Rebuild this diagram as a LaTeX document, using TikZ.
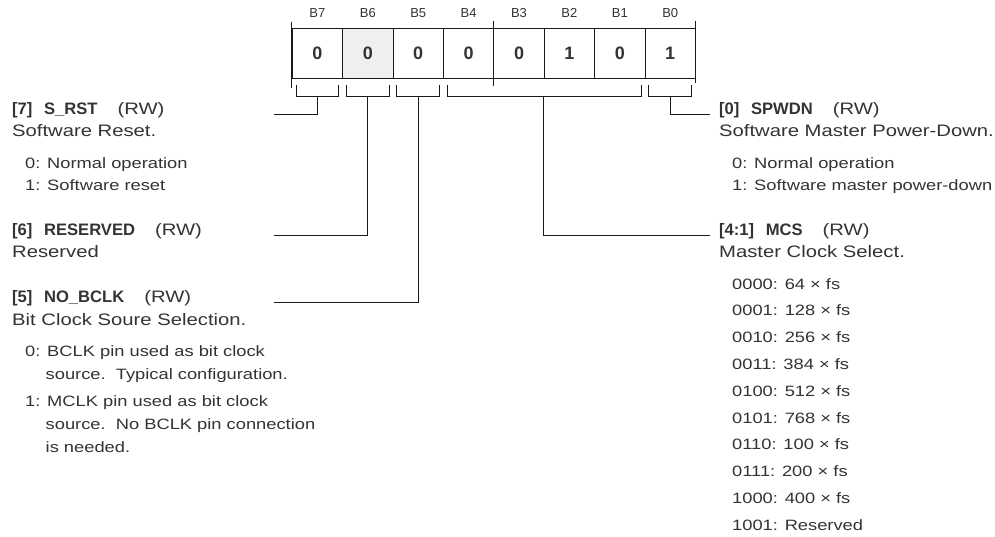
\documentclass[tikz,border=0pt]{standalone}
\usepackage{fontspec}
\setmainfont{Liberation Sans}[FakeStretch=1.22]
\newfontfamily\plainfont{Liberation Sans}
\newcommand\bhead[1]{{\plainfont\bfseries #1}}
\definecolor{txt}{HTML}{333333}
\definecolor{ln}{HTML}{1A1A1A}
\definecolor{cellgray}{HTML}{EFEFEF}
\begin{document}
\begin{tikzpicture}[x=1pt,y=-1pt,
  cellbox/.style={draw=ln,line width=1pt,minimum width=50.4pt,minimum height=50.6pt,
    inner sep=0pt,anchor=north west,text=txt,font=\plainfont\bfseries\fontsize{18}{18}\selectfont},
  bitlabel/.style={text=txt,inner sep=0pt,font=\plainfont\fontsize{13}{13}\selectfont},
  head/.style={anchor=base west,inner sep=0pt,text=txt,font=\fontsize{16.6}{20}\selectfont},
  sub/.style={anchor=base west,inner sep=0pt,text=txt,font=\fontsize{15}{18}\selectfont},
  wire/.style={draw=ln,line width=1.1pt},
]
\useasboundingbox (0,0) rectangle (995,536);
% register cells
\node[cellbox] (c7) at (291.7,27.7) {0};
\node[cellbox,fill=cellgray] (c6) at (342.1,27.7) {0};
\node[cellbox] (c5) at (392.5,27.7) {0};
\node[cellbox] (c4) at (442.9,27.7) {0};
\node[cellbox] (c3) at (493.3,27.7) {0};
\node[cellbox] (c2) at (543.7,27.7) {1};
\node[cellbox] (c1) at (594.1,27.7) {0};
\node[cellbox] (c0) at (644.5,27.7) {1};
% bit labels
\foreach \b in {7,6,5,4,3,2,1,0}{
  \node[bitlabel] (lb\b) at ([yshift=14.4pt]c\b.north) {B\b};
}
% ticks
\draw[wire] ([yshift=6pt]c7.north west) -- ([yshift=-9pt]c7.south west);
\draw[wire] ([yshift=7pt]c3.north west) -- (c3.north west);
\draw[wire] (c3.south west) -- ([yshift=-7pt]c3.south west);
\draw[wire] ([yshift=7pt]c0.north east) -- ([yshift=-3.5pt]c0.south east);
% brackets
\foreach \l/\r in {7/7,6/6,5/5,4/1,0/0}{
  \draw[wire] ([xshift=4.4pt,yshift=-6pt]c\l.south west) -- ([xshift=4.4pt,yshift=-17pt]c\l.south west)
    -- ([xshift=-4.4pt,yshift=-17pt]c\r.south east) -- ([xshift=-4.4pt,yshift=-6pt]c\r.south east);
}
\coordinate (b7) at ([yshift=-17pt]c7.south);
\coordinate (b6) at ([yshift=-17pt]c6.south);
\coordinate (b5) at ([yshift=-17pt]c5.south);
\coordinate (b41) at ([yshift=-17pt]c2.south west);
\coordinate (b0) at ([yshift=-17pt]c0.south);
\coordinate (e7) at (274,114.3);
\coordinate (e6) at (274,235.7);
\coordinate (e5) at (274,302.7);
\coordinate (e41) at (710,235.2);
\coordinate (e0) at (710,114.3);
\draw[wire] (b7) |- (e7);
\draw[wire] (b6) |- (e6);
\draw[wire] (b5) |- (e5);
\draw[wire] (b41) |- (e41);
\draw[wire] (b0) |- (e0);
% left texts
\node[head] (h7) at (12,114.5) {\bhead{[7]\hspace{.7em}S\_RST}\hspace{1.2em}(RW)};
\node[head] (d7) at (12,136.5) {Software Reset.};
\node[sub] (s7a) at (25,168) {0: Normal operation};
\node[sub] (s7b) at (25,190.5) {1: Software reset};
\node[head] (h6) at (12,235.5) {\bhead{[6]\hspace{.7em}RESERVED}\hspace{1.2em}(RW)};
\node[head] (d6) at (12,257.5) {Reserved};
\node[head] (h5) at (12,302.5) {\bhead{[5]\hspace{.7em}NO\_BCLK}\hspace{1.2em}(RW)};
\node[head] (d5) at (12,325) {Bit Clock Soure Selection.};
\node[sub] (s5a) at (25,356.5) {0: BCLK pin used as bit clock};
\node[sub] (s5b) at (45.5,379) {source.\ \ Typical configuration.};
\node[sub] (s5c) at (25,406) {1: MCLK pin used as bit clock};
\node[sub] (s5d) at (45.5,429) {source.\ \ No BCLK pin connection};
\node[sub] (s5e) at (45.5,452) {is needed.};
% right texts
\node[head] (h0) at (719,114.5) {\bhead{[0]\hspace{.7em}SPWDN}\hspace{1.2em}(RW)};
\node[head] (d0) at (719,136.5) {Software Master Power-Down.};
\node[sub] (s0a) at (732,168) {0: Normal operation};
\node[sub] (s0b) at (732,190.5) {1: Software master power-down};
\node[head] (h41) at (719,235.5) {\bhead{[4:1]\hspace{.7em}MCS}\hspace{1.2em}(RW)};
\node[head] (d41) at (719,257.5) {Master Clock Select.};
\foreach \t [count=\k from 0] in {0000: 64 × fs,0001: 128 × fs,0010: 256 × fs,0011: 384 × fs,0100: 512 × fs,0101: 768 × fs,0110: 100 × fs,0111: 200 × fs,1000: 400 × fs,1001: Reserved}{
  \node[sub] (m\k) at (732,289+26.8*\k) {\t};
}
\end{tikzpicture}
\end{document}
